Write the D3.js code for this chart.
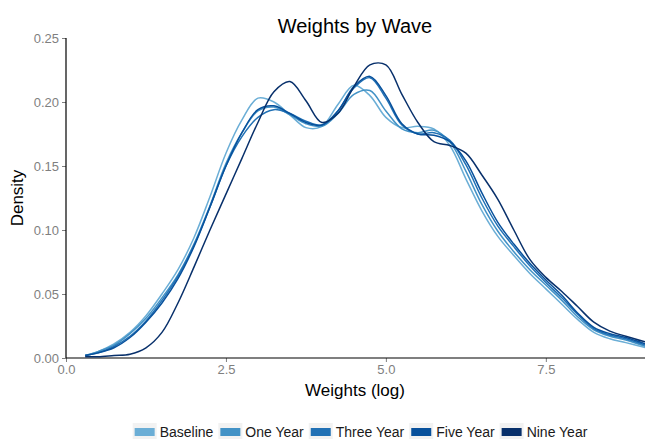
<!DOCTYPE html>
<html>
<head>
<meta charset="utf-8">
<script src="https://cdn.jsdelivr.net/npm/d3@7"></script>
<style>
  body { margin: 0; background: #fff; }
  svg { display: block; font-family: "Liberation Sans", Arial, sans-serif; }
</style>
</head>
<body>
<svg id="chart"></svg>
<script>
const xs = [0.3, 0.5, 0.75, 1.0, 1.25, 1.5, 1.75, 2.0, 2.25, 2.5, 2.75, 3.0, 3.25, 3.5, 3.75, 4.0, 4.25, 4.5,
            4.75, 5.0, 5.25, 5.5, 5.75, 6.0, 6.25, 6.5, 6.75, 7.0, 7.25, 7.5, 7.75, 8.0, 8.25, 8.5, 8.75, 9.06]

const baseline = [0.002, 0.005, 0.011, 0.020, 0.033, 0.050, 0.069, 0.094, 0.126, 0.160, 0.186, 0.203, 0.200, 0.190,
                  0.180, 0.181, 0.198, 0.213, 0.205, 0.188, 0.180, 0.181, 0.179, 0.166, 0.140, 0.115, 0.095, 0.080,
                  0.066, 0.054, 0.042, 0.030, 0.020, 0.015, 0.012, 0.008]
const oneYear = [0.002, 0.005, 0.010, 0.019, 0.031, 0.047, 0.065, 0.089, 0.119, 0.152, 0.176, 0.193, 0.196, 0.190,
                 0.183, 0.181, 0.191, 0.206, 0.209, 0.193, 0.179, 0.176, 0.178, 0.169, 0.146, 0.120, 0.099, 0.083,
                 0.069, 0.057, 0.045, 0.032, 0.022, 0.017, 0.014, 0.009]
const threeYear = [0.002, 0.004, 0.009, 0.017, 0.029, 0.045, 0.064, 0.088, 0.118, 0.150, 0.173, 0.188, 0.194, 0.191,
                   0.185, 0.182, 0.193, 0.211, 0.219, 0.203, 0.182, 0.175, 0.176, 0.170, 0.151, 0.125, 0.103, 0.087,
                   0.072, 0.059, 0.047, 0.034, 0.023, 0.018, 0.015, 0.010]
const fiveYear = [0.002, 0.004, 0.008, 0.016, 0.028, 0.043, 0.062, 0.087, 0.118, 0.150, 0.176, 0.194, 0.197, 0.191,
                  0.184, 0.182, 0.193, 0.212, 0.220, 0.205, 0.183, 0.175, 0.174, 0.169, 0.154, 0.129, 0.106, 0.089,
                  0.074, 0.061, 0.049, 0.035, 0.024, 0.019, 0.016, 0.011]
const nineYear = [0.001, 0.001, 0.002, 0.003, 0.008, 0.020, 0.043, 0.071, 0.100, 0.128, 0.156, 0.184, 0.208, 0.216,
                  0.201, 0.184, 0.191, 0.212, 0.229, 0.229, 0.206, 0.184, 0.169, 0.166, 0.160, 0.143, 0.124, 0.100,
                  0.077, 0.063, 0.052, 0.040, 0.028, 0.021, 0.017, 0.0125]

const waves = ["Baseline", "One Year", "Three Year", "Five Year", "Nine Year"]
const waveValues = [baseline, oneYear, threeYear, fiveYear, nineYear]
const waveColors = ["#6baed6", "#4292c6", "#2171b5", "#08519c", "#08306b"]

const xTicks = [0, 2.5, 5, 7.5]
const yTicks = [0, 0.05, 0.10, 0.15, 0.20, 0.25]

// Canvas
const W = 645, H = 439
const plot = {left: 66, right: 645, top: 38, bottom: 358}

const svg = d3.select("#chart").attr("width", W).attr("height", H)

const xScale = d3.scaleLinear().domain([0, 9.05]).range([plot.left, plot.right])
const yScale = d3.scaleLinear().domain([0, 0.25]).range([plot.bottom, plot.top])

svg.append("defs").append("clipPath").attr("id", "clip")
    .append("rect")
    .attr("x", plot.left).attr("y", 0)
    .attr("width", plot.right - plot.left).attr("height", plot.bottom)

// Title
svg.append("text")
    .attr("x", 355).attr("y", 33)
    .attr("text-anchor", "middle")
    .attr("font-size", "20px")
    .attr("fill", "#000")
    .text("Weights by Wave")

//**** AXES ****/
const xAxis = svg.append("g")
    .attr("transform", "translate(0," + plot.bottom + ")")
    .call(d3.axisBottom(xScale).tickValues(xTicks).tickFormat(d3.format(".1f")).tickSize(4).tickPadding(3))
xAxis.select(".domain").remove()
xAxis.selectAll(".tick line").attr("stroke", "#7f7f7f")
xAxis.selectAll("text").attr("fill", "#7f7f7f").attr("font-size", "13px")

const yAxis = svg.append("g")
    .attr("transform", "translate(" + plot.left + ",0)")
    .call(d3.axisLeft(yScale).tickValues(yTicks).tickFormat(d3.format(".2f")).tickSize(4).tickPadding(3))
yAxis.select(".domain").remove()
yAxis.selectAll(".tick line").attr("stroke", "#7f7f7f")
yAxis.selectAll("text").attr("fill", "#7f7f7f").attr("font-size", "13px")

// Axis lines
svg.append("line")
    .attr("x1", plot.left).attr("x2", plot.right)
    .attr("y1", plot.bottom).attr("y2", plot.bottom)
    .attr("stroke", "#000").attr("stroke-width", 1.2)
svg.append("line")
    .attr("x1", plot.left).attr("x2", plot.left)
    .attr("y1", plot.top).attr("y2", plot.bottom)
    .attr("stroke", "#000").attr("stroke-width", 1.2)

// Axis labels
svg.append("text")
    .attr("x", 355).attr("y", 396)
    .attr("text-anchor", "middle")
    .attr("font-size", "17px")
    .attr("fill", "#000")
    .text("Weights (log)")

svg.append("text")
    .attr("transform", "translate(23,198) rotate(-90)")
    .attr("text-anchor", "middle")
    .attr("font-size", "17px")
    .attr("fill", "#000")
    .text("Density")

//**** DENSITY LINES ****/
const line = d3.line()
    .x((d) => xScale(d[0]))
    .y((d) => yScale(d[1]))
    .curve(d3.curveCatmullRom.alpha(0.5))

svg.append("g").attr("clip-path", "url(#clip)")
    .selectAll("path")
    .data(waveValues)
    .enter()
    .append("path")
    .attr("d", (vals) => line(vals.map((v, i) => [xs[i], v])))
    .attr("fill", "none")
    .attr("stroke", (d, i) => waveColors[i])
    .attr("stroke-width", 1.5)

//**** LEGEND ****/
const legend = svg.append("g")
const items = legend.selectAll("g").data(waves).enter().append("g")
items.append("rect")
    .attr("x", 0).attr("y", 423)
    .attr("width", 24).attr("height", 17)
    .attr("fill", "#f2f2f2")
items.append("rect")
    .attr("x", 2).attr("y", 428)
    .attr("width", 20).attr("height", 8)
    .attr("fill", (d, i) => waveColors[i])
items.append("text")
    .attr("x", 27).attr("y", 437)
    .attr("font-size", "14px")
    .attr("fill", "#1a1a1a")
    .text((d) => d)

// Place legend keys side by side, centred under the plot.
let offset = 0
items.each(function () {
    const w = 27 + d3.select(this).select("text").node().getComputedTextLength()
    d3.select(this).attr("transform", "translate(" + offset + ",0)")
    offset += w + 5
})
legend.attr("transform", "translate(" + (360 - (offset - 5) / 2) + ",0)")
</script>
</body>
</html>
